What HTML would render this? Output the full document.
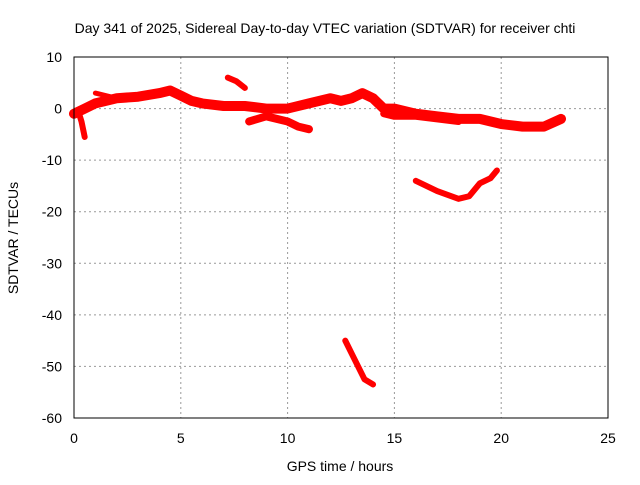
<!DOCTYPE html>
<html><head><meta charset="utf-8"><style>
body{margin:0;background:#fff;}
svg text{font-family:"Liberation Sans",sans-serif;font-size:14px;fill:#000;}
</style></head><body>
<svg width="640" height="480" xmlns="http://www.w3.org/2000/svg">
<rect width="640" height="480" fill="#fff"/>
<text x="325" y="33" text-anchor="middle">Day 341 of 2025, Sidereal Day-to-day VTEC variation (SDTVAR) for receiver chti</text>
<g id="grid"></g><g id="ticks"></g><g id="marks"></g>
<rect x="74" y="57" width="534" height="361" fill="none" stroke="#000" stroke-width="1"/>
<text x="340" y="471" text-anchor="middle">GPS time / hours</text>
<text transform="translate(18,238) rotate(-90)" text-anchor="middle">SDTVAR / TECUs</text>
</svg>
<script>
const xTicks=[0,5,10,15,20,25];
const yTicks=[10,0,-10,-20,-30,-40,-50,-60];
const mainT=[0,0.5,1,2,3,4,4.5,5,5.5,6,7,8,9,10,11,12,12.5,13,13.5,14,14.5,15,16,17,18,19,20,21,22,22.8];
const mainV=[-1,0,1,2,2.3,3,3.5,2.5,1.5,1,0.5,0.5,0,0,1,2,1.5,2,3,2,0,0,-1,-1.5,-2,-2,-3,-3.5,-3.5,-2];
const dipT=[0.2,0.35,0.45,0.5];
const dipV=[-0.5,-2.5,-4.5,-5.5];
const bumpT=[1,1.5,2];
const bumpV=[3,2.5,2];
const arcT=[7.2,7.6,8];
const arcV=[6,5.3,4];
const lowT=[8.2,9,10,10.5,11];
const lowV=[-2.5,-1.5,-2.5,-3.5,-4];
const midT=[14.5,15,16,17,18];
const midV=[-1,-1.5,-1.5,-2,-2.5];
const dropT=[16,17,18,18.5,19,19.5,19.8];
const dropV=[-14,-16,-17.5,-17,-14.5,-13.5,-12];
const deepT=[12.7,13,13.3,13.6,14];
const deepV=[-45,-47.5,-50,-52.5,-53.5];
const series=[[mainT,mainV,10],[dipT,dipV,6],[bumpT,bumpV,5],[arcT,arcV,6],[lowT,lowV,8],[midT,midV,7],[dropT,dropV,6],[deepT,deepV,6]];
const X=t=>74+t*(534/25), Y=v=>57+(10-v)*(361/70);
const NS="http://www.w3.org/2000/svg";
function mk(tag,attrs,parent){const e=document.createElementNS(NS,tag);for(const k in attrs)e.setAttribute(k,attrs[k]);document.getElementById(parent).appendChild(e);return e;}
xTicks.forEach(t=>{
  if(t>0&&t<25){const g=mk('line',{x1:X(t),x2:X(t),y1:57,y2:418,stroke:'#999','stroke-dasharray':'2,3'},'grid');}
  const l=mk('text',{x:X(t),y:443,'text-anchor':'middle'},'ticks');l.textContent=t;
  
  
});
yTicks.forEach(v=>{
  if(v<10&&v>-60){const g=mk('line',{x1:74,x2:608,y1:Y(v),y2:Y(v),stroke:'#999','stroke-dasharray':'2,3'},'grid');}
  const l=mk('text',{x:62,y:Y(v)+5,'text-anchor':'end'},'ticks');l.textContent=v;
  
  
});
series.forEach(s=>{
  const pts=s[0].map((t,j)=>X(t)+','+Y(s[1][j])).join(' ');
  const p=mk('polyline',{points:pts,fill:'none',stroke:'#f00','stroke-width':s[2],'stroke-linejoin':'round','stroke-linecap':'round'},'marks');
  
  
});
</script>
</body></html>
